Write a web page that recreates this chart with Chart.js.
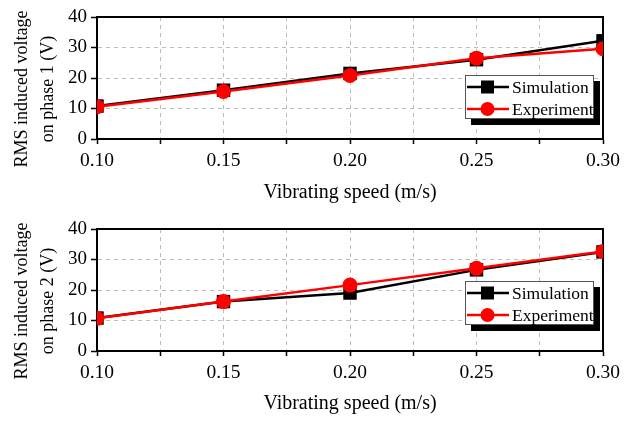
<!DOCTYPE html>
<html>
<head>
<meta charset="utf-8">
<script src="https://cdn.jsdelivr.net/npm/chart.js@4.4.0/dist/chart.umd.min.js"></script>
<style>
  html, body { margin: 0; padding: 0; background: #fff; }
  #wrap { position: relative; width: 634px; height: 421px; }
  canvas { position: absolute; left: 0; }
  #c1 { top: 0; }
  #c2 { top: 210px; }
</style>
</head>
<body>
<div id="wrap">
  <canvas id="c1" width="634" height="210"></canvas>
  <canvas id="c2" width="634" height="211"></canvas>
</div>
<script>
// data
const speeds = [0.10, 0.15, 0.20, 0.25, 0.30];
const phase1Sim = [10.8, 16.0, 21.5, 26.0, 32.2];
const phase1Exp = [10.6, 15.6, 20.8, 26.5, 29.6];
const phase2Sim = [10.8, 16.2, 19.0, 26.6, 32.5];
const phase2Exp = [10.7, 16.2, 21.6, 27.1, 32.6];
const seriesNames = ['Simulation', 'Experiment'];
const xTitle = 'Vibrating speed (m/s)';

const FONT = '"Liberation Serif", "Times New Roman", serif';

// frame round the plot (top + right side)
const framePlugin = {
  id: 'frame',
  beforeDatasetsDraw(chart) {
    const a = chart.chartArea;
    const c = chart.ctx;
    c.save();
    c.strokeStyle = '#000';
    c.lineWidth = 2;
    c.strokeRect(a.left, a.top, a.right - a.left, a.bottom - a.top);
    c.restore();
  }
};

// two-line y title, a bit below the plot centre like the original
const yTitlePlugin = {
  id: 'yTitle',
  afterDraw(chart, args, opts) {
    const a = chart.chartArea;
    const c = chart.ctx;
    const cy = (a.top + a.bottom) / 2 + opts.shift;
    c.save();
    c.fillStyle = '#000';
    c.font = '18px ' + FONT;
    c.textAlign = 'center';
    c.textBaseline = 'middle';
    opts.lines.forEach((t, i) => {
      c.save();
      c.translate(22 + i * 26, cy);
      c.rotate(-Math.PI / 2);
      c.fillText(t, 0, 0);
      c.restore();
    });
    c.restore();
  }
};

// legend box with drop shadow, drawn inside the plot
const boxLegend = {
  id: 'boxLegend',
  afterDatasetsDraw(chart, args, opts) {
    const a = chart.chartArea;
    const c = chart.ctx;
    const w = 129, h = 44;
    const x = a.right - opts.inset - w;
    const y = a.top + opts.top;
    c.save();
    c.fillStyle = '#000';
    c.fillRect(x + 6, y + 6, w, h);
    c.fillStyle = '#fff';
    c.fillRect(x, y, w, h);
    c.strokeStyle = '#555';
    c.lineWidth = 1;
    c.strokeRect(x + 0.5, y + 0.5, w - 1, h - 1);
    chart.data.datasets.forEach((ds, i) => {
      const ry = y + 12 + i * 22;
      c.strokeStyle = ds.borderColor;
      c.lineWidth = ds.borderWidth;
      c.beginPath();
      c.moveTo(x + 2, ry);
      c.lineTo(x + 44, ry);
      c.stroke();
      c.fillStyle = ds.pointBackgroundColor;
      c.beginPath();
      if (ds.pointStyle === 'rect') {
        c.rect(x + 16, ry - 6.5, 13, 13);
      } else {
        c.arc(x + 22.5, ry, 7, 0, Math.PI * 2);
      }
      c.fill();
      c.fillStyle = '#000';
      c.font = '17.5px ' + FONT;
      c.textBaseline = 'middle';
      c.fillText(ds.label, x + 47, ry + 1);
    });
    c.restore();
  }
};

function makeChart(id, sim, exp, yTitle, topPad, xHeight, legendTop) {
  const ctx = document.getElementById(id).getContext('2d');
  return new Chart(ctx, {
    type: 'line',
    data: {
      datasets: [
        {
          label: seriesNames[0],
          data: speeds.map((s, i) => ({ x: s, y: sim[i] })),
          borderColor: '#000',
          borderWidth: 2.5,
          pointStyle: 'rect',
          pointRadius: 9.5,
          pointBackgroundColor: '#000',
          pointBorderWidth: 0,
          clip: 0,
          order: 1
        },
        {
          label: seriesNames[1],
          data: speeds.map((s, i) => ({ x: s, y: exp[i] })),
          borderColor: '#ff0000',
          borderWidth: 2.5,
          pointStyle: 'circle',
          pointRadius: 7.5,
          pointBackgroundColor: '#ff0000',
          pointBorderWidth: 0,
          clip: 0,
          order: 0
        }
      ]
    },
    options: {
      responsive: false,
      animation: false,
      devicePixelRatio: 1,
      layout: { padding: { top: topPad, right: 31, left: 0, bottom: 0 } },
      scales: {
        x: {
          type: 'linear',
          min: 0.1,
          max: 0.3,
          afterFit: s => { s.height = xHeight; },
          ticks: {
            stepSize: 0.025,
            autoSkip: false,
            maxRotation: 0,
            padding: 5,
            color: '#000',
            font: { family: FONT, size: 19.5 },
            callback: (v, i) => (i % 2 === 0 ? v.toFixed(2) : '')
          },
          grid: {
            color: c => (c.tick && c.tick.value > 0.101 && c.tick.value < 0.299 ? '#bdbdbd' : 'rgba(0,0,0,0)'),
            tickColor: '#000',
            tickLength: 5,
            tickWidth: 1.5
          },
          border: { color: '#000', width: 2, dash: [4, 4] },
          title: {
            display: true,
            text: xTitle,
            color: '#000',
            font: { family: FONT, size: 20 },
            padding: { top: 8, bottom: 5 }
          }
        },
        y: {
          min: 0,
          max: 40,
          afterFit: s => { s.width = 97; },
          ticks: {
            stepSize: 5,
            padding: 4,
            color: '#000',
            font: { family: FONT, size: 19 },
            callback: v => (v % 10 === 0 ? v : '')
          },
          grid: {
            color: c => (c.tick && c.tick.value % 10 === 0 && c.tick.value > 0 && c.tick.value < 40 ? '#bdbdbd' : 'rgba(0,0,0,0)'),
            tickColor: '#000',
            tickLength: 6,
            tickWidth: 1.5
          },
          border: { color: '#000', width: 2, dash: [4, 4] }
        }
      },
      plugins: {
        legend: { display: false },
        tooltip: { enabled: false },
        boxLegend: { inset: 9, top: legendTop },
        yTitle: { lines: yTitle, shift: 11 }
      }
    },
    plugins: [framePlugin, boxLegend, yTitlePlugin]
  });
}

makeChart('c1', phase1Sim, phase1Exp, ['RMS induced voltage', 'on phase 1 (V)'], 17, 71, 58);
makeChart('c2', phase2Sim, phase2Exp, ['RMS induced voltage', 'on phase 2 (V)'], 19, 70, 52);
</script>
</body>
</html>
